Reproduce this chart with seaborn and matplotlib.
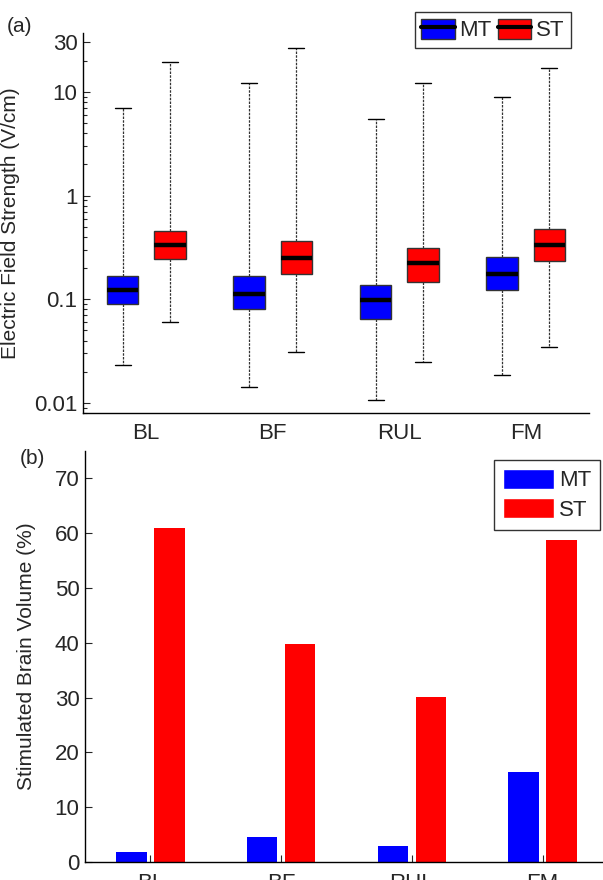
import numpy as np
import pandas as pd
import seaborn as sns
import matplotlib.pyplot as plt
from matplotlib.patches import Patch
from matplotlib.lines import Line2D
from matplotlib.legend_handler import HandlerTuple
from matplotlib.ticker import LogLocator, FixedLocator, NullFormatter

sns.set_style('white')
plt.rcParams['font.family'] = ['Liberation Sans', 'DejaVu Sans']

# data
sites = ['BL', 'BF', 'RUL', 'FM']
groups = ['MT', 'ST']
colors = {'MT': '#0000ff', 'ST': '#ff0000'}

# five-number summary per site: [min, q1, median, q3, max]  (V/cm)
mt_stats = [[0.023, 0.091, 0.123, 0.166, 7.0],
            [0.0144, 0.080, 0.1135, 0.169, 12.3],
            [0.0107, 0.0647, 0.0987, 0.138, 5.5],
            [0.0184, 0.123, 0.175, 0.255, 8.9]]
st_stats = [[0.061, 0.245, 0.335, 0.46, 19.5],
            [0.0313, 0.175, 0.249, 0.368, 26.7],
            [0.0247, 0.148, 0.224, 0.315, 12.3],
            [0.035, 0.233, 0.335, 0.48, 17.0]]

# stimulated brain volume (%)
mt_volume = [1.8, 4.5, 2.9, 16.5]
st_volume = [61.0, 39.8, 30.1, 58.7]

rows = []
for i, s in enumerate(sites):
    for v in mt_stats[i]:
        rows.append((s, 'MT', v))
    for v in st_stats[i]:
        rows.append((s, 'ST', v))
df_box = pd.DataFrame(rows, columns=['site', 'group', 'E'])

df_bar = pd.DataFrame({
    'site': sites * 2,
    'group': ['MT'] * 4 + ['ST'] * 4,
    'volume': mt_volume + st_volume,
})

fig = plt.figure(figsize=(6.03, 8.80), dpi=100)
ax1 = fig.add_axes([83 / 603, 1 - 413 / 880, 506 / 603, 380 / 880])
ax2 = fig.add_axes([85 / 603, 1 - 862 / 880, 523 / 603, 411 / 880])

# (a) box plot
sns.boxplot(data=df_box, x='site', y='E', hue='group', order=sites, hue_order=groups,
            palette=colors, saturation=1, width=0.744, gap=0.33, whis=(0, 100),
            log_scale=True, legend=False, ax=ax1,
            boxprops=dict(edgecolor='#333333', linewidth=1.0),
            medianprops=dict(color='black', linewidth=3.2),
            whiskerprops=dict(color='#333333', linewidth=0.9, linestyle=(0, (2, 1))),
            capprops=dict(color='black', linewidth=1.0))
ax1.set_ylim(0.008, 37)
ax1.set_xlim(-0.5, 3.5)
ax1.yaxis.set_major_locator(FixedLocator([0.01, 0.1, 1, 10, 30]))
ax1.set_yticklabels(['0.01', '0.1', '1', '10', '30'])
ax1.yaxis.set_minor_locator(LogLocator(base=10, subs=np.arange(2, 10)))
ax1.yaxis.set_minor_formatter(NullFormatter())
ax1.set_xlabel('')
ax1.set_ylabel('Electric Field Strength (V/cm)', fontsize=15)
ax1.yaxis.set_label_coords(-0.125, 0.5)
ax1.tick_params(axis='y', which='major', direction='in', length=5, width=0.8, labelsize=16, left=True, pad=4)
ax1.tick_params(axis='y', which='minor', direction='in', length=3, width=0.8, left=True)
ax1.tick_params(axis='x', length=0, labelsize=16, pad=7)

handles = [(Patch(facecolor=colors[g], edgecolor='#333333'),
            Line2D([], [], color='black', linewidth=3)) for g in groups]
ax1.legend(handles, groups, handler_map={tuple: HandlerTuple(ndivide=1)},
           ncol=2, loc='upper right', bbox_to_anchor=(571 / 603, 1 - 12 / 880),
           bbox_transform=fig.transFigure, fontsize=16, frameon=True, fancybox=False,
           edgecolor='#333333', framealpha=1, handlelength=1.5, handleheight=1.0,
           handletextpad=0.2, columnspacing=0.3, borderpad=0.3, borderaxespad=0)

# (b) bar chart
sns.barplot(data=df_bar, x='site', y='volume', hue='group', order=sites, hue_order=groups,
            palette=colors, saturation=1, width=0.58, gap=0.2, errorbar=None,
            legend=False, ax=ax2, linewidth=0)
ax2.set_ylim(0, 75)
ax2.set_xlim(-0.5, 3.5)
ax2.set_yticks(np.arange(0, 71, 10))
ax2.set_xlabel('')
ax2.set_ylabel('Stimulated Brain Volume (%)', fontsize=15)
ax2.yaxis.set_label_coords(-0.094, 0.5)
ax2.tick_params(axis='y', direction='in', length=5, width=0.8, labelsize=16, left=True, pad=4)
ax2.tick_params(axis='x', direction='in', length=5, width=0.8, labelsize=16, bottom=True, pad=8)

handles2 = [Patch(facecolor=colors[g]) for g in groups]
ax2.legend(handles2, groups, loc='upper right', bbox_to_anchor=(600 / 603, 1 - 460 / 880),
           bbox_transform=fig.transFigure, fontsize=16, frameon=True, fancybox=False,
           edgecolor='#333333', framealpha=1, handlelength=2.3, handleheight=1.0,
           handletextpad=0.2, labelspacing=0.3, borderpad=0.4, borderaxespad=0)

for ax in (ax1, ax2):
    sns.despine(ax=ax)
    for sp in ('left', 'bottom'):
        ax.spines[sp].set_color('black')
        ax.spines[sp].set_linewidth(1.0)

fig.text(20 / 603, 1 - 26 / 880, '(a)', fontsize=15, ha='center', va='center')
fig.text(32 / 603, 1 - 458 / 880, '(b)', fontsize=15, ha='center', va='center')

fig.savefig('out.png', dpi=100)
